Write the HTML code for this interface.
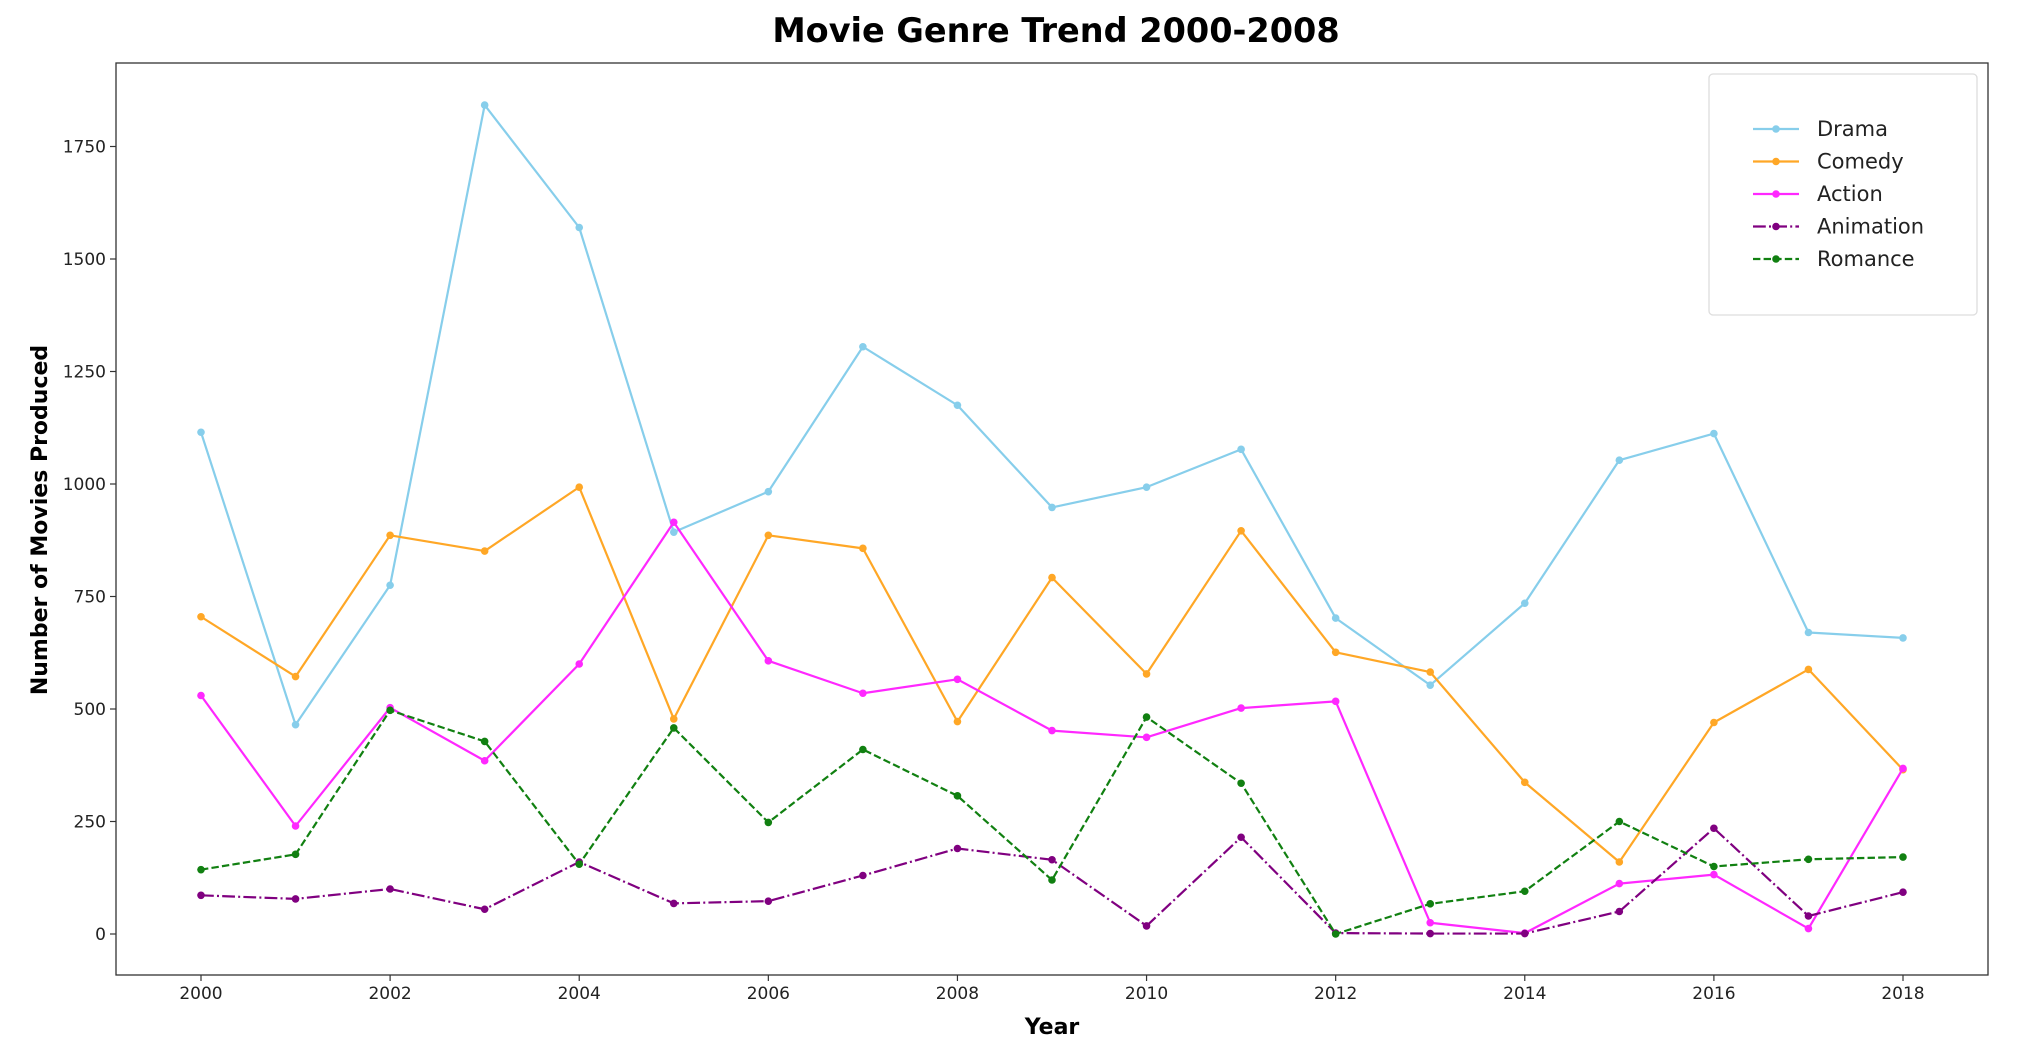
<!DOCTYPE html>
<html><head><meta charset="utf-8"><style>
body{margin:0;background:#fff;}
svg{display:block;font-family:"DejaVu Sans","Liberation Sans",sans-serif;}
</style></head><body>
<svg id="chart" width="2022" height="1046" viewBox="0 0 2022 1046">
<rect x="0" y="0" width="2022" height="1046" fill="#fff"/>
<text x="1056" y="42" text-anchor="middle" font-size="33.5" font-weight="bold">Movie Genre Trend 2000-2008</text>
<text x="1052" y="1034" text-anchor="middle" font-size="22" font-weight="bold">Year</text>
<text transform="translate(47,520) rotate(-90)" text-anchor="middle" font-size="22" font-weight="bold">Number of Movies Produced</text>
<g id="marks"></g>
<g id="axes"></g>
<g id="legend"></g>
</svg>
<script>
const years = [2000,2001,2002,2003,2004,2005,2006,2007,2008,2009,2010,2011,2012,2013,2014,2015,2016,2017,2018];
const drama = [1115,465,775,1842,1570,893,983,1305,1175,948,993,1077,702,553,735,1053,1112,670,658];
const comedy = [705,572,886,851,993,478,886,857,472,792,578,896,626,582,337,160,470,588,365];
const action = [530,240,503,385,600,915,607,535,566,452,437,502,517,25,2,112,132,12,368];
const animation = [86,78,100,55,160,68,73,130,190,165,18,215,2,1,1,50,235,40,93];
const romance = [143,177,497,428,155,458,248,410,307,120,482,335,0,67,95,250,150,166,171];
const seriesNames = ["Drama","Comedy","Action","Animation","Romance"];
const xTicks = [2000,2002,2004,2006,2008,2010,2012,2014,2016,2018];
const yTicks = [0,250,500,750,1000,1250,1500,1750];

const NS="http://www.w3.org/2000/svg";
const L=116,R=1988,T=63,B=975;
const x=v=>201+(v-2000)*(1903-201)/18;
const y=v=>934-v*0.45;
function mk(tag,attrs,parent){const e=document.createElementNS(NS,tag);for(const k in attrs)e.setAttribute(k,attrs[k]);parent.appendChild(e);return e;}
const styles=[
 {c:"#87ceeb",d:null},{c:"#ffa726",d:null},{c:"#ff28ff",d:null},
 {c:"#800080",d:"12.8 3.2 2 3.2"},{c:"#118011",d:"7.4 3.2"}];
const datas=[drama,comedy,action,animation,romance];
const marks=document.getElementById('marks');
datas.forEach((arr,i)=>{
  const g=mk('g',{},marks);
  
  
  const st=styles[i];
  const p=mk('polyline',{points:arr.map((v,j)=>x(years[j])+','+y(v)).join(' '),fill:'none',stroke:st.c,'stroke-width':2.2,'stroke-linejoin':'round'},g);
  if(st.d)p.setAttribute('stroke-dasharray',st.d);
  
  
  arr.forEach((v,j)=>{
    const c=mk('circle',{cx:x(years[j]),cy:y(v),r:3.8,fill:st.c},g);
    
    
  });
});
const axes=document.getElementById('axes');
const frame=mk('rect',{x:L,y:T,width:R-L,height:B-T,fill:'none',stroke:'#333','stroke-width':1.3},axes);


xTicks.forEach(t=>{
  mk('line',{x1:x(t),x2:x(t),y1:B,y2:B+6,stroke:'#333','stroke-width':1.2},axes);
  const tx=mk('text',{x:x(t),y:B+24,'text-anchor':'middle','font-size':17,fill:'#222'},axes);
  tx.textContent=t;
  
  
});
yTicks.forEach(t=>{
  mk('line',{x1:L-6,x2:L,y1:y(t),y2:y(t),stroke:'#333','stroke-width':1.2},axes);
  const tx=mk('text',{x:L-10,y:y(t)+6,'text-anchor':'end','font-size':17,fill:'#222'},axes);
  tx.textContent=t;
  
  
});
const leg=document.getElementById('legend');
const box=mk('rect',{x:1709,y:74,width:268,height:241,rx:4,fill:'#fff',stroke:'#ddd','stroke-width':1.3},leg);


seriesNames.forEach((n,i)=>{
  const yy=129+i*32.5;
  const g=mk('g',{},leg);
  
  
  const ln=mk('line',{x1:1753,x2:1799,y1:yy,y2:yy,stroke:styles[i].c,'stroke-width':2.2},g);
  if(styles[i].d)ln.setAttribute('stroke-dasharray',styles[i].d);
  mk('circle',{cx:1776,cy:yy,r:3.8,fill:styles[i].c},g);
  const t=mk('text',{x:1817,y:yy+7,'font-size':21,fill:'#222'},g);
  t.textContent=n;
});
</script>
</body></html>
